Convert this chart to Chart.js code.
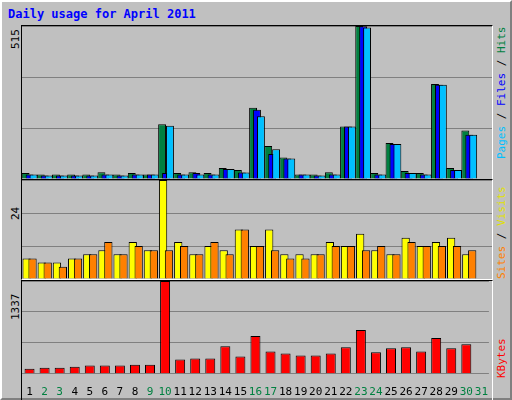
<!DOCTYPE html>
<html>
<head>
<meta charset="utf-8">
<script src="https://cdn.jsdelivr.net/npm/chart.js@4"></script>
<style>
  body { margin: 0; background: #fff; }
  #frame { position: absolute; left: 0; top: 0; width: 508px; height: 396px; background: #c0c0c0;
           border: 2px solid; border-color: #fff #808080 #808080 #fff; font-family: "DejaVu Sans Mono", monospace; }
  .panel { position: absolute; left: 19px; width: 470px; border-top: 1px solid #000; border-left: 1px solid #000;
           border-bottom: 1px solid #fff; border-right: 1px solid #fff; }
  .rot { position: absolute; transform-origin: left top; transform: rotate(-90deg); white-space: nowrap; font-size: 11px; }
  #title { position: absolute; left: 6px; top: 5px; color: #0000ff; font-weight: bold; font-size: 12px; }
</style>
</head>
<body>
<div id="frame">
  <div id="title">Daily usage for April 2011</div>
  <div class="panel" style="top:23px;height:153px"><canvas id="top"></canvas></div>
  <div class="panel" style="top:177px;height:99px"><canvas id="mid"></canvas></div>
  <div class="panel" style="top:278px;height:122px;border-bottom:none"><canvas id="bot"></canvas></div>
  <div class="rot" style="left:7px;top:47px">515</div>
  <div class="rot" style="left:7px;top:218px">24</div>
  <div class="rot" style="left:7px;top:318px">1337</div>
  <div class="rot" style="left:493px;top:157px"><span style="color:#00c0ff">Pages</span> / <span style="color:#0000ff">Files</span> / <span style="color:#008040">Hits</span></div>
  <div class="rot" style="left:493px;top:277px"><span style="color:#ff8000">Sites</span> / <span style="color:#e0e000">Visits</span></div>
  <div class="rot" style="left:493px;top:376px;color:#ff0000">KBytes</div>
</div>
<script>
const days = ["1","2","3","4","5","6","7","8","9","10","11","12","13","14","15","16","17","18","19","20","21","22","23","24","25","26","27","28","29","30","31"];
const weekend = ["2","3","9","10","16","17","23","24","30","31"];
const hits  = [20,15,15,15,15,23,15,20,15,184,20,23,20,37,30,240,111,72,15,15,23,177,515,20,121,27,20,320,37,163,null];
const files = [15,12,12,12,12,15,12,15,15,20,15,20,15,34,22,233,84,69,15,12,15,177,514,15,118,20,15,317,30,149,null];
const pages = [15,12,12,12,12,15,12,15,15,179,15,15,15,34,22,211,100,69,15,12,15,177,510,15,118,20,15,317,30,149,null];
const visits = [5,4,4,5,6,7,6,9,7,24,9,6,8,7,12,8,12,6,6,6,9,8,11,7,6,10,8,9,10,6,null];
const sites  = [5,4,3,5,6,9,6,8,7,7,8,6,9,6,12,8,7,5,5,6,8,8,7,8,6,9,8,8,8,7,null];
const kbytes = [73,88,88,103,118,118,118,132,132,1337,206,220,220,397,250,544,323,294,265,265,294,382,632,309,367,382,323,514,367,426,null];

// draw first dataset at the back, last one in front (webalizer style)
const backToFront = {
  id: 'backToFront',
  beforeDatasetsDraw(chart) {
    chart.getSortedVisibleDatasetMetas().forEach(meta => meta.controller.draw());
    return false;
  }
};

function bar(data, color, pct) {
  return { data, backgroundColor: color, borderColor: '#000', borderWidth: 1,
           categoryPercentage: 0.78, barPercentage: pct, borderSkipped: 'bottom' };
}

function panel(id, datasets, max, showX) {
  new Chart(document.getElementById(id), {
    type: 'bar',
    data: { labels: days, datasets },
    plugins: [backToFront],
    options: {
      responsive: true, maintainAspectRatio: false, animation: false,
      layout: { padding: 0 },
      plugins: { legend: { display: false }, tooltip: { enabled: false } },
      scales: {
        x: {
          display: showX,
          grid: { display: false }, border: { display: false },
          ticks: {
            color: ctx => weekend.includes(days[ctx.index]) ? '#008040' : '#000',
            font: { family: 'DejaVu Sans Mono', size: 11 }, maxRotation: 0, autoSkip: false, padding: 4
          }
        },
        y: {
          min: 0, max, ticks: { display: false, stepSize: max / 3 },
          grid: { color: '#808080', drawTicks: false }, border: { display: false }
        }
      }
    }
  });
}

panel('top', [bar(hits, '#008040', 2), bar(files, '#0000ff', 2), bar(pages, '#00c0ff', 2)], 515, false);
panel('mid', [bar(visits, '#ffff00', 1.4), bar(sites, '#ff8000', 1.4)], 24, false);
panel('bot', [{ data: kbytes, backgroundColor: '#ff0000', borderColor: '#000', borderWidth: 1,
                categoryPercentage: 0.78, barPercentage: 0.85 }], 1337, true);
</script>
</body>
</html>
